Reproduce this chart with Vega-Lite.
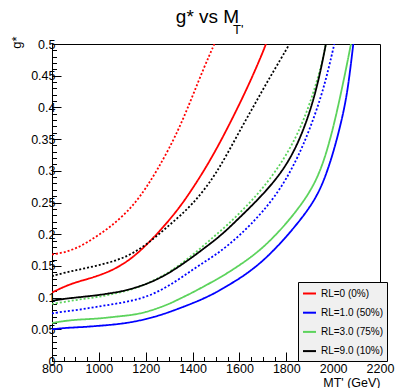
{
  "$schema": "https://vega.github.io/schema/vega-lite/v6.json",
  "width": 328,
  "height": 317,
  "autosize": {"type": "none"},
  "padding": {"left": 52, "top": 44, "right": 16, "bottom": 27},
  "background": "white",
  "config": {"font": "Liberation Sans", "view": {"stroke": "black", "strokeWidth": 1}},
  "title": {
    "text": "g* vs M",
    "subtitle": "\u200b\u00a0\u00a0\u00a0\u00a0\u00a0\u00a0\u00a0\u00a0\u00a0\u00a0\u00a0\u00a0\u00a0\u00a0\u00a0\u00a0\u00a0T'",
    "fontSize": 19,
    "fontWeight": "normal",
    "subtitleFontSize": 13,
    "subtitleFont": "Liberation Sans",
    "anchor": "middle",
    "dx": -8.5,
    "offset": -1,
    "subtitlePadding": -3,
    "color": "black",
    "subtitleColor": "black"
  },
  "data": {
    "values": [
      {"m": 800, "g": 0.108, "model": "RL=0 (0%)", "type": "observed"},
      {"m": 850, "g": 0.117, "model": "RL=0 (0%)", "type": "observed"},
      {"m": 900, "g": 0.124, "model": "RL=0 (0%)", "type": "observed"},
      {"m": 950, "g": 0.129, "model": "RL=0 (0%)", "type": "observed"},
      {"m": 1000, "g": 0.135, "model": "RL=0 (0%)", "type": "observed"},
      {"m": 1050, "g": 0.142, "model": "RL=0 (0%)", "type": "observed"},
      {"m": 1100, "g": 0.152, "model": "RL=0 (0%)", "type": "observed"},
      {"m": 1150, "g": 0.165, "model": "RL=0 (0%)", "type": "observed"},
      {"m": 1200, "g": 0.182, "model": "RL=0 (0%)", "type": "observed"},
      {"m": 1250, "g": 0.201, "model": "RL=0 (0%)", "type": "observed"},
      {"m": 1300, "g": 0.222, "model": "RL=0 (0%)", "type": "observed"},
      {"m": 1350, "g": 0.245, "model": "RL=0 (0%)", "type": "observed"},
      {"m": 1400, "g": 0.272, "model": "RL=0 (0%)", "type": "observed"},
      {"m": 1450, "g": 0.301, "model": "RL=0 (0%)", "type": "observed"},
      {"m": 1500, "g": 0.333, "model": "RL=0 (0%)", "type": "observed"},
      {"m": 1550, "g": 0.368, "model": "RL=0 (0%)", "type": "observed"},
      {"m": 1600, "g": 0.405, "model": "RL=0 (0%)", "type": "observed"},
      {"m": 1650, "g": 0.444, "model": "RL=0 (0%)", "type": "observed"},
      {"m": 1700, "g": 0.487, "model": "RL=0 (0%)", "type": "observed"},
      {"m": 1713, "g": 0.5, "model": "RL=0 (0%)", "type": "observed"},

      {"m": 800, "g": 0.168, "model": "RL=0 (0%)", "type": "expected"},
      {"m": 850, "g": 0.171, "model": "RL=0 (0%)", "type": "expected"},
      {"m": 900, "g": 0.177, "model": "RL=0 (0%)", "type": "expected"},
      {"m": 950, "g": 0.187, "model": "RL=0 (0%)", "type": "expected"},
      {"m": 1000, "g": 0.199, "model": "RL=0 (0%)", "type": "expected"},
      {"m": 1050, "g": 0.212, "model": "RL=0 (0%)", "type": "expected"},
      {"m": 1100, "g": 0.228, "model": "RL=0 (0%)", "type": "expected"},
      {"m": 1150, "g": 0.247, "model": "RL=0 (0%)", "type": "expected"},
      {"m": 1200, "g": 0.272, "model": "RL=0 (0%)", "type": "expected"},
      {"m": 1250, "g": 0.302, "model": "RL=0 (0%)", "type": "expected"},
      {"m": 1300, "g": 0.335, "model": "RL=0 (0%)", "type": "expected"},
      {"m": 1350, "g": 0.373, "model": "RL=0 (0%)", "type": "expected"},
      {"m": 1400, "g": 0.418, "model": "RL=0 (0%)", "type": "expected"},
      {"m": 1450, "g": 0.464, "model": "RL=0 (0%)", "type": "expected"},
      {"m": 1493, "g": 0.5, "model": "RL=0 (0%)", "type": "expected"},

      {"m": 800, "g": 0.050, "model": "RL=1.0 (50%)", "type": "observed"},
      {"m": 850, "g": 0.052, "model": "RL=1.0 (50%)", "type": "observed"},
      {"m": 900, "g": 0.053, "model": "RL=1.0 (50%)", "type": "observed"},
      {"m": 950, "g": 0.054, "model": "RL=1.0 (50%)", "type": "observed"},
      {"m": 1000, "g": 0.0555, "model": "RL=1.0 (50%)", "type": "observed"},
      {"m": 1050, "g": 0.057, "model": "RL=1.0 (50%)", "type": "observed"},
      {"m": 1100, "g": 0.059, "model": "RL=1.0 (50%)", "type": "observed"},
      {"m": 1150, "g": 0.062, "model": "RL=1.0 (50%)", "type": "observed"},
      {"m": 1200, "g": 0.066, "model": "RL=1.0 (50%)", "type": "observed"},
      {"m": 1250, "g": 0.071, "model": "RL=1.0 (50%)", "type": "observed"},
      {"m": 1300, "g": 0.077, "model": "RL=1.0 (50%)", "type": "observed"},
      {"m": 1350, "g": 0.084, "model": "RL=1.0 (50%)", "type": "observed"},
      {"m": 1400, "g": 0.091, "model": "RL=1.0 (50%)", "type": "observed"},
      {"m": 1450, "g": 0.099, "model": "RL=1.0 (50%)", "type": "observed"},
      {"m": 1500, "g": 0.108, "model": "RL=1.0 (50%)", "type": "observed"},
      {"m": 1550, "g": 0.119, "model": "RL=1.0 (50%)", "type": "observed"},
      {"m": 1600, "g": 0.130, "model": "RL=1.0 (50%)", "type": "observed"},
      {"m": 1650, "g": 0.143, "model": "RL=1.0 (50%)", "type": "observed"},
      {"m": 1700, "g": 0.158, "model": "RL=1.0 (50%)", "type": "observed"},
      {"m": 1750, "g": 0.176, "model": "RL=1.0 (50%)", "type": "observed"},
      {"m": 1800, "g": 0.196, "model": "RL=1.0 (50%)", "type": "observed"},
      {"m": 1850, "g": 0.218, "model": "RL=1.0 (50%)", "type": "observed"},
      {"m": 1900, "g": 0.242, "model": "RL=1.0 (50%)", "type": "observed"},
      {"m": 1950, "g": 0.273, "model": "RL=1.0 (50%)", "type": "observed"},
      {"m": 2000, "g": 0.326, "model": "RL=1.0 (50%)", "type": "observed"},
      {"m": 2050, "g": 0.399, "model": "RL=1.0 (50%)", "type": "observed"},
      {"m": 2070, "g": 0.450, "model": "RL=1.0 (50%)", "type": "observed"},
      {"m": 2086, "g": 0.5, "model": "RL=1.0 (50%)", "type": "observed"},

      {"m": 800, "g": 0.075, "model": "RL=1.0 (50%)", "type": "expected"},
      {"m": 850, "g": 0.078, "model": "RL=1.0 (50%)", "type": "expected"},
      {"m": 900, "g": 0.080, "model": "RL=1.0 (50%)", "type": "expected"},
      {"m": 950, "g": 0.083, "model": "RL=1.0 (50%)", "type": "expected"},
      {"m": 1000, "g": 0.086, "model": "RL=1.0 (50%)", "type": "expected"},
      {"m": 1050, "g": 0.089, "model": "RL=1.0 (50%)", "type": "expected"},
      {"m": 1100, "g": 0.092, "model": "RL=1.0 (50%)", "type": "expected"},
      {"m": 1150, "g": 0.096, "model": "RL=1.0 (50%)", "type": "expected"},
      {"m": 1200, "g": 0.101, "model": "RL=1.0 (50%)", "type": "expected"},
      {"m": 1250, "g": 0.109, "model": "RL=1.0 (50%)", "type": "expected"},
      {"m": 1300, "g": 0.119, "model": "RL=1.0 (50%)", "type": "expected"},
      {"m": 1350, "g": 0.131, "model": "RL=1.0 (50%)", "type": "expected"},
      {"m": 1400, "g": 0.144, "model": "RL=1.0 (50%)", "type": "expected"},
      {"m": 1450, "g": 0.156, "model": "RL=1.0 (50%)", "type": "expected"},
      {"m": 1500, "g": 0.168, "model": "RL=1.0 (50%)", "type": "expected"},
      {"m": 1550, "g": 0.182, "model": "RL=1.0 (50%)", "type": "expected"},
      {"m": 1600, "g": 0.198, "model": "RL=1.0 (50%)", "type": "expected"},
      {"m": 1650, "g": 0.216, "model": "RL=1.0 (50%)", "type": "expected"},
      {"m": 1700, "g": 0.236, "model": "RL=1.0 (50%)", "type": "expected"},
      {"m": 1750, "g": 0.259, "model": "RL=1.0 (50%)", "type": "expected"},
      {"m": 1800, "g": 0.287, "model": "RL=1.0 (50%)", "type": "expected"},
      {"m": 1850, "g": 0.322, "model": "RL=1.0 (50%)", "type": "expected"},
      {"m": 1900, "g": 0.365, "model": "RL=1.0 (50%)", "type": "expected"},
      {"m": 1950, "g": 0.418, "model": "RL=1.0 (50%)", "type": "expected"},
      {"m": 1980, "g": 0.460, "model": "RL=1.0 (50%)", "type": "expected"},
      {"m": 2005, "g": 0.5, "model": "RL=1.0 (50%)", "type": "expected"},

      {"m": 800, "g": 0.060, "model": "RL=3.0 (75%)", "type": "observed"},
      {"m": 850, "g": 0.063, "model": "RL=3.0 (75%)", "type": "observed"},
      {"m": 900, "g": 0.065, "model": "RL=3.0 (75%)", "type": "observed"},
      {"m": 950, "g": 0.066, "model": "RL=3.0 (75%)", "type": "observed"},
      {"m": 1000, "g": 0.067, "model": "RL=3.0 (75%)", "type": "observed"},
      {"m": 1050, "g": 0.069, "model": "RL=3.0 (75%)", "type": "observed"},
      {"m": 1100, "g": 0.071, "model": "RL=3.0 (75%)", "type": "observed"},
      {"m": 1150, "g": 0.073, "model": "RL=3.0 (75%)", "type": "observed"},
      {"m": 1200, "g": 0.077, "model": "RL=3.0 (75%)", "type": "observed"},
      {"m": 1250, "g": 0.083, "model": "RL=3.0 (75%)", "type": "observed"},
      {"m": 1300, "g": 0.090, "model": "RL=3.0 (75%)", "type": "observed"},
      {"m": 1350, "g": 0.099, "model": "RL=3.0 (75%)", "type": "observed"},
      {"m": 1400, "g": 0.108, "model": "RL=3.0 (75%)", "type": "observed"},
      {"m": 1450, "g": 0.118, "model": "RL=3.0 (75%)", "type": "observed"},
      {"m": 1500, "g": 0.128, "model": "RL=3.0 (75%)", "type": "observed"},
      {"m": 1550, "g": 0.139, "model": "RL=3.0 (75%)", "type": "observed"},
      {"m": 1600, "g": 0.151, "model": "RL=3.0 (75%)", "type": "observed"},
      {"m": 1650, "g": 0.164, "model": "RL=3.0 (75%)", "type": "observed"},
      {"m": 1700, "g": 0.179, "model": "RL=3.0 (75%)", "type": "observed"},
      {"m": 1750, "g": 0.197, "model": "RL=3.0 (75%)", "type": "observed"},
      {"m": 1800, "g": 0.217, "model": "RL=3.0 (75%)", "type": "observed"},
      {"m": 1850, "g": 0.240, "model": "RL=3.0 (75%)", "type": "observed"},
      {"m": 1900, "g": 0.266, "model": "RL=3.0 (75%)", "type": "observed"},
      {"m": 1950, "g": 0.302, "model": "RL=3.0 (75%)", "type": "observed"},
      {"m": 2000, "g": 0.365, "model": "RL=3.0 (75%)", "type": "observed"},
      {"m": 2050, "g": 0.451, "model": "RL=3.0 (75%)", "type": "observed"},
      {"m": 2076, "g": 0.5, "model": "RL=3.0 (75%)", "type": "observed"},

      {"m": 800, "g": 0.090, "model": "RL=3.0 (75%)", "type": "expected"},
      {"m": 850, "g": 0.093, "model": "RL=3.0 (75%)", "type": "expected"},
      {"m": 900, "g": 0.096, "model": "RL=3.0 (75%)", "type": "expected"},
      {"m": 950, "g": 0.099, "model": "RL=3.0 (75%)", "type": "expected"},
      {"m": 1000, "g": 0.101, "model": "RL=3.0 (75%)", "type": "expected"},
      {"m": 1050, "g": 0.105, "model": "RL=3.0 (75%)", "type": "expected"},
      {"m": 1100, "g": 0.109, "model": "RL=3.0 (75%)", "type": "expected"},
      {"m": 1150, "g": 0.114, "model": "RL=3.0 (75%)", "type": "expected"},
      {"m": 1200, "g": 0.121, "model": "RL=3.0 (75%)", "type": "expected"},
      {"m": 1250, "g": 0.130, "model": "RL=3.0 (75%)", "type": "expected"},
      {"m": 1300, "g": 0.140, "model": "RL=3.0 (75%)", "type": "expected"},
      {"m": 1350, "g": 0.153, "model": "RL=3.0 (75%)", "type": "expected"},
      {"m": 1400, "g": 0.167, "model": "RL=3.0 (75%)", "type": "expected"},
      {"m": 1450, "g": 0.183, "model": "RL=3.0 (75%)", "type": "expected"},
      {"m": 1500, "g": 0.199, "model": "RL=3.0 (75%)", "type": "expected"},
      {"m": 1550, "g": 0.215, "model": "RL=3.0 (75%)", "type": "expected"},
      {"m": 1600, "g": 0.233, "model": "RL=3.0 (75%)", "type": "expected"},
      {"m": 1650, "g": 0.252, "model": "RL=3.0 (75%)", "type": "expected"},
      {"m": 1700, "g": 0.273, "model": "RL=3.0 (75%)", "type": "expected"},
      {"m": 1750, "g": 0.297, "model": "RL=3.0 (75%)", "type": "expected"},
      {"m": 1800, "g": 0.325, "model": "RL=3.0 (75%)", "type": "expected"},
      {"m": 1850, "g": 0.359, "model": "RL=3.0 (75%)", "type": "expected"},
      {"m": 1900, "g": 0.404, "model": "RL=3.0 (75%)", "type": "expected"},
      {"m": 1950, "g": 0.465, "model": "RL=3.0 (75%)", "type": "expected"},
      {"m": 1969, "g": 0.5, "model": "RL=3.0 (75%)", "type": "expected"},

      {"m": 800, "g": 0.095, "model": "RL=9.0 (10%)", "type": "observed"},
      {"m": 850, "g": 0.098, "model": "RL=9.0 (10%)", "type": "observed"},
      {"m": 900, "g": 0.100, "model": "RL=9.0 (10%)", "type": "observed"},
      {"m": 950, "g": 0.102, "model": "RL=9.0 (10%)", "type": "observed"},
      {"m": 1000, "g": 0.104, "model": "RL=9.0 (10%)", "type": "observed"},
      {"m": 1050, "g": 0.107, "model": "RL=9.0 (10%)", "type": "observed"},
      {"m": 1100, "g": 0.110, "model": "RL=9.0 (10%)", "type": "observed"},
      {"m": 1150, "g": 0.115, "model": "RL=9.0 (10%)", "type": "observed"},
      {"m": 1200, "g": 0.121, "model": "RL=9.0 (10%)", "type": "observed"},
      {"m": 1250, "g": 0.129, "model": "RL=9.0 (10%)", "type": "observed"},
      {"m": 1300, "g": 0.139, "model": "RL=9.0 (10%)", "type": "observed"},
      {"m": 1350, "g": 0.151, "model": "RL=9.0 (10%)", "type": "observed"},
      {"m": 1400, "g": 0.164, "model": "RL=9.0 (10%)", "type": "observed"},
      {"m": 1450, "g": 0.178, "model": "RL=9.0 (10%)", "type": "observed"},
      {"m": 1500, "g": 0.192, "model": "RL=9.0 (10%)", "type": "observed"},
      {"m": 1550, "g": 0.208, "model": "RL=9.0 (10%)", "type": "observed"},
      {"m": 1600, "g": 0.226, "model": "RL=9.0 (10%)", "type": "observed"},
      {"m": 1650, "g": 0.244, "model": "RL=9.0 (10%)", "type": "observed"},
      {"m": 1700, "g": 0.263, "model": "RL=9.0 (10%)", "type": "observed"},
      {"m": 1750, "g": 0.284, "model": "RL=9.0 (10%)", "type": "observed"},
      {"m": 1800, "g": 0.309, "model": "RL=9.0 (10%)", "type": "observed"},
      {"m": 1850, "g": 0.343, "model": "RL=9.0 (10%)", "type": "observed"},
      {"m": 1900, "g": 0.391, "model": "RL=9.0 (10%)", "type": "observed"},
      {"m": 1940, "g": 0.445, "model": "RL=9.0 (10%)", "type": "observed"},
      {"m": 1969, "g": 0.5, "model": "RL=9.0 (10%)", "type": "observed"},

      {"m": 800, "g": 0.134, "model": "RL=9.0 (10%)", "type": "expected"},
      {"m": 850, "g": 0.139, "model": "RL=9.0 (10%)", "type": "expected"},
      {"m": 900, "g": 0.143, "model": "RL=9.0 (10%)", "type": "expected"},
      {"m": 950, "g": 0.147, "model": "RL=9.0 (10%)", "type": "expected"},
      {"m": 1000, "g": 0.151, "model": "RL=9.0 (10%)", "type": "expected"},
      {"m": 1050, "g": 0.156, "model": "RL=9.0 (10%)", "type": "expected"},
      {"m": 1100, "g": 0.162, "model": "RL=9.0 (10%)", "type": "expected"},
      {"m": 1150, "g": 0.171, "model": "RL=9.0 (10%)", "type": "expected"},
      {"m": 1200, "g": 0.183, "model": "RL=9.0 (10%)", "type": "expected"},
      {"m": 1250, "g": 0.198, "model": "RL=9.0 (10%)", "type": "expected"},
      {"m": 1300, "g": 0.214, "model": "RL=9.0 (10%)", "type": "expected"},
      {"m": 1350, "g": 0.230, "model": "RL=9.0 (10%)", "type": "expected"},
      {"m": 1400, "g": 0.248, "model": "RL=9.0 (10%)", "type": "expected"},
      {"m": 1450, "g": 0.270, "model": "RL=9.0 (10%)", "type": "expected"},
      {"m": 1500, "g": 0.296, "model": "RL=9.0 (10%)", "type": "expected"},
      {"m": 1550, "g": 0.328, "model": "RL=9.0 (10%)", "type": "expected"},
      {"m": 1600, "g": 0.362, "model": "RL=9.0 (10%)", "type": "expected"},
      {"m": 1650, "g": 0.395, "model": "RL=9.0 (10%)", "type": "expected"},
      {"m": 1700, "g": 0.428, "model": "RL=9.0 (10%)", "type": "expected"},
      {"m": 1750, "g": 0.460, "model": "RL=9.0 (10%)", "type": "expected"},
      {"m": 1800, "g": 0.491, "model": "RL=9.0 (10%)", "type": "expected"},
      {"m": 1813, "g": 0.5, "model": "RL=9.0 (10%)", "type": "expected"}
    ]
  },
  "mark": {"type": "line", "interpolate": "basis", "strokeWidth": 1.8, "clip": true},
  "encoding": {
    "x": {
      "field": "m",
      "type": "quantitative",
      "scale": {"domain": [800, 2200], "nice": false, "zero": false},
      "axis": {
        "values": [800, 850, 900, 950, 1000, 1050, 1100, 1150, 1200, 1250, 1300, 1350, 1400, 1450, 1500, 1550, 1600, 1650, 1700, 1750, 1800, 1850, 1900, 1950, 2000, 2050, 2100, 2150, 2200],
        "tickSize": {"condition": {"test": "datum.value % 200 === 0", "value": -9}, "value": -4.5},
        "labelExpr": "datum.value % 200 === 0 ? datum.label : ''",
        "format": "d",
        "labelFontSize": 12.5,
        "labelPadding": 10,
        "labelFlush": false,
        "labelOverlap": false,
        "labelColor": "black",
        "grid": false,
        "domainColor": "black",
        "tickColor": "black",
        "title": "MT' (GeV)",
        "titleFontSize": 12.5,
        "titleFontWeight": "normal",
        "titleColor": "black",
        "titleAlign": "right",
        "titleBaseline": "alphabetic",
        "titleX": 328,
        "titleY": 25
      }
    },
    "y": {
      "field": "g",
      "type": "quantitative",
      "scale": {"domain": [0, 0.5], "nice": false},
      "axis": {
        "values": [0, 0.01, 0.02, 0.03, 0.04, 0.05, 0.06, 0.07, 0.08, 0.09, 0.1, 0.11, 0.12, 0.13, 0.14, 0.15, 0.16, 0.17, 0.18, 0.19, 0.2, 0.21, 0.22, 0.23, 0.24, 0.25, 0.26, 0.27, 0.28, 0.29, 0.3, 0.31, 0.32, 0.33, 0.34, 0.35, 0.36, 0.37, 0.38, 0.39, 0.4, 0.41, 0.42, 0.43, 0.44, 0.45, 0.46, 0.47, 0.48, 0.49, 0.5],
        "tickSize": {"condition": {"test": "abs(datum.value * 20 - round(datum.value * 20)) < 0.000001", "value": -9}, "value": -4.5},
        "labelExpr": "abs(datum.value * 20 - round(datum.value * 20)) < 0.000001 ? datum.label : ''",
        "format": ".2~f",
        "labelFontSize": 12.5,
        "labelPadding": 6,
        "labelFlush": false,
        "labelOverlap": false,
        "labelColor": "black",
        "grid": false,
        "domainColor": "black",
        "tickColor": "black",
        "title": "g*",
        "titleFontSize": 13,
        "titleFontWeight": "normal",
        "titleColor": "black",
        "titleAngle": 270,
        "titleAlign": "right",
        "titleBaseline": "middle",
        "titleX": -36,
        "titleY": -8
      }
    },
    "color": {
      "field": "model",
      "type": "nominal",
      "scale": {
        "domain": ["RL=0 (0%)", "RL=1.0 (50%)", "RL=3.0 (75%)", "RL=9.0 (10%)"],
        "range": ["#ff0000", "#0000ff", "#5cd35c", "#000000"]
      },
      "legend": {
        "orient": "none",
        "legendX": 246,
        "legendY": 238,
        "title": null,
        "fillColor": "#f0f0f0",
        "strokeColor": "black",
        "padding": 4,
        "rowPadding": 6.2,
        "symbolType": "stroke",
        "symbolSize": 169,
        "symbolStrokeWidth": 2,
        "labelFontSize": 10,
        "labelOffset": 4,
        "labelColor": "black",
        "labelLimit": 0,
        "cornerRadius": 0
      }
    },
    "strokeDash": {
      "field": "type",
      "type": "nominal",
      "scale": {"domain": ["observed", "expected"], "range": [[1, 0], [2, 2]]},
      "legend": null
    }
  }
}
